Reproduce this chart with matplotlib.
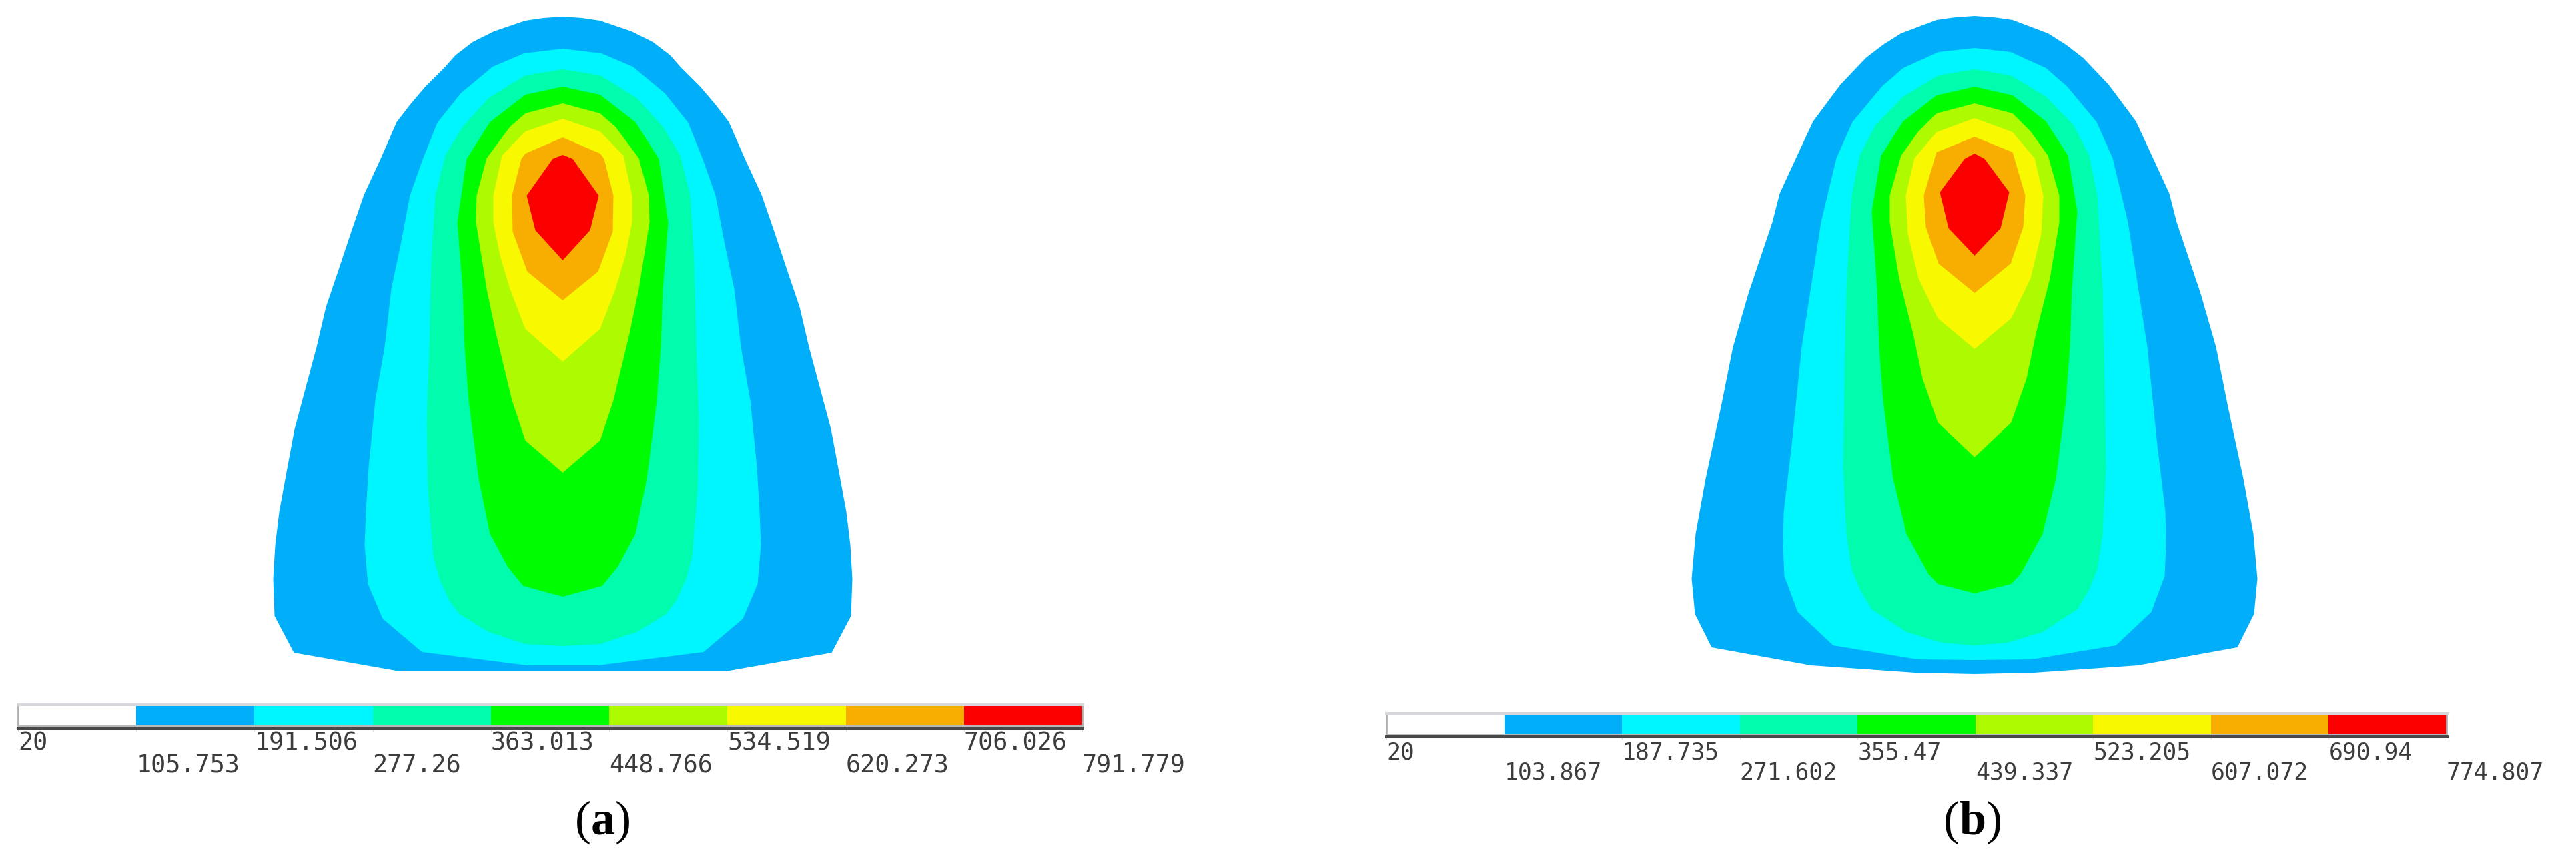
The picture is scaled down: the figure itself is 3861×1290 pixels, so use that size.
# -*- coding: utf-8 -*-
# Temperature contour bands for two cases, each with its own level bar

import numpy as np
import matplotlib
matplotlib.use("Agg")
import matplotlib.pyplot as plt

WIDTH, HEIGHT = 3862, 1290

BAND_COLORS = ["#00AEFA", "#00F6FE", "#00FCAC", "#00FC00",
               "#AEFA00", "#F8F800", "#F8AE00", "#FC0000"]
BAR_COLORS = ["#FFFFFF"] + BAND_COLORS

LEVELS_A = [20, 105.753, 191.506, 277.26, 363.013, 448.766, 534.519, 620.273, 706.026, 791.779]
LABELS_A = ["20", "105.753", "191.506", "277.26", "363.013", "448.766", "534.519", "620.273", "706.026", "791.779"]
LEVELS_B = [20, 103.867, 187.735, 271.602, 355.47, 439.337, 523.205, 607.072, 690.94, 774.807]
LABELS_B = ["20", "103.867", "187.735", "271.602", "355.47", "439.337", "523.205", "607.072", "690.94", "774.807"]

# band outlines: (height position, half width about the axis)
BANDS_A = [
    [(25, 0), (27, 29), (31, 56), (47, 103), (63, 135), (83, 161), (100, 176), (130, 206), (157, 229), (183, 249),
     (238, 273), (292, 298), (347, 317), (410, 338), (460, 355), (520, 369), (587, 387), (643, 402), (707, 414),
     (767, 425), (817, 431), (867, 434), (923, 432), (978, 403), (1006, 244), (1006, 0)],
    [(73, 0), (80, 58), (100, 105), (140, 153), (184, 188), (239, 210), (293, 229), (367, 243), (433, 257),
     (520, 267), (600, 281), (700, 291), (767, 295), (817, 297), (875, 292), (927, 270), (977, 211), (997, 53), (997, 0)],
    [(104, 0), (113, 56), (147, 111), (190, 150), (233, 176), (293, 191), (393, 197), (520, 200), (633, 204),
     (733, 202), (833, 194), (867, 185), (900, 170), (920, 155), (947, 111), (965, 56), (968, 0)],
    [(130, 0), (142, 56), (183, 109), (238, 144), (333, 158), (433, 150), (520, 147), (600, 141), (717, 126),
     (800, 109), (850, 82), (878, 59), (894, 0)],
    [(155, 0), (170, 56), (190, 79), (237, 114), (293, 129), (333, 130), (433, 114), (500, 100), (600, 76),
     (660, 56), (708, 0)],
    [(178, 0), (197, 56), (233, 91), (293, 104), (333, 104), (383, 94), (433, 79), (493, 56), (542, 0)],
    [(206, 0), (230, 56), (238, 62), (293, 76), (347, 75), (407, 53), (450, 0)],
    [(232, 0), (238, 15), (293, 54), (345, 41), (390, 0)],
]
BANDS_B = [
    [(24, 0), (26, 29), (30, 57), (50, 110), (67, 137), (87, 163), (127, 201), (182, 242), (240, 269), (290, 292),
     (333, 303), (440, 339), (520, 362), (610, 380), (717, 403), (800, 418), (867, 424), (920, 419), (970, 394),
     (997, 245), (1008, 89), (1010, 0)],
    [(72, 0), (78, 54), (102, 107), (130, 139), (183, 183), (237, 207), (333, 230), (520, 259), (667, 274),
     (767, 286), (817, 287), (863, 285), (917, 265), (967, 212), (988, 86), (989, 0)],
    [(104, 0), (113, 54), (145, 107), (187, 148), (233, 172), (293, 184), (433, 192), (520, 194), (700, 197),
     (800, 192), (853, 184), (883, 172), (913, 154), (947, 102), (963, 49), (967, 0)],
    [(130, 0), (143, 57), (182, 107), (233, 140), (317, 154), (433, 146), (520, 143), (600, 137), (717, 122),
     (800, 102), (860, 69), (875, 55), (889, 0)],
    [(155, 0), (170, 57), (197, 84), (233, 110), (293, 127), (333, 127), (417, 113), (500, 92), (567, 78),
     (633, 55), (685, 0)],
    [(177, 0), (198, 57), (237, 90), (293, 103), (350, 100), (417, 84), (477, 55), (523, 0)],
    [(205, 0), (228, 57), (293, 76), (340, 73), (395, 54), (439, 0)],
    [(230, 0), (238, 15), (288, 52), (342, 39), (383, 0)],
]

plt.rcParams["mathtext.fontset"] = "custom"
plt.rcParams["mathtext.rm"] = "Liberation Serif"
plt.rcParams["mathtext.bf"] = "Liberation Serif:bold"

fig = plt.figure(figsize=(WIDTH / 100, HEIGHT / 100), dpi=100, facecolor="white")
canvas = fig.add_axes([0, 0, 1, 1])
canvas.set_xlim(0, WIDTH)
canvas.set_ylim(HEIGHT, 0)
canvas.axis("off")


def draw_bands(bands, center):
    for outline, color in zip(bands, BAND_COLORS):
        pts = np.array(outline, dtype=float)
        xs = np.concatenate([center + pts[:, 1], center - pts[::-1, 1]])
        ys = np.concatenate([pts[:, 0], pts[::-1, 0]])
        canvas.fill(xs, ys, color=color, lw=0)


def draw_level_bar(levels, labels, left, right, top, bottom, color_end, base1, base2, fontsize):
    ax = fig.add_axes([left / WIDTH, 1 - bottom / HEIGHT, (right - left) / WIDTH, (bottom - top) / HEIGHT])
    ax.set_facecolor("#b8b8b8")
    lv = np.array(levels)
    height = bottom - top
    gap = (bottom - color_end) / height
    ax.bar(lv[:-1], 1 - gap, width=np.diff(lv), bottom=gap, align="edge", color=BAR_COLORS, lw=0)
    ax.set_xlim(lv[0], lv[-1])
    ax.set_ylim(0, 1)
    ax.set_yticks([])
    ax.set_xticks(lv)
    ax.tick_params(axis="x", length=3, width=0.7, color="#c8c8c8", labelbottom=False)
    for side in ax.spines.values():
        side.set_color("#b0b0b0")
        side.set_linewidth(2)
    ax.spines["top"].set_color("#d8d8dc")
    ax.spines["top"].set_linewidth(3.6)
    ax.spines["bottom"].set_color("#484848")
    ax.spines["bottom"].set_linewidth(3.6)
    trans = ax.get_xaxis_transform()
    for i, (value, label) in enumerate(zip(lv, labels)):
        base = base1 if i % 2 == 0 else base2
        ax.text(value, (bottom - base) / height, label, transform=trans, ha="left", va="baseline",
                family="DejaVu Sans Mono", fontsize=fontsize, color="#3c3c3c", clip_on=False)


draw_bands(BANDS_A, 843.5)
draw_bands(BANDS_B, 2959.5)

draw_level_bar(LEVELS_A, LABELS_A, 27, 1622, 1055, 1090.5, 1086, 1124, 1158, 26.5)
draw_level_bar(LEVELS_B, LABELS_B, 2078, 3667, 1069, 1103, 1100, 1137, 1167, 25)

canvas.text(903, 1250, r"($\mathbf{a}$)", ha="center", va="baseline", fontsize=52,
            family="Liberation Serif", color="black")
canvas.text(2956, 1250, r"($\mathbf{b}$)", ha="center", va="baseline", fontsize=52,
            family="Liberation Serif", color="black")

fig.savefig("out.png", dpi=100)
